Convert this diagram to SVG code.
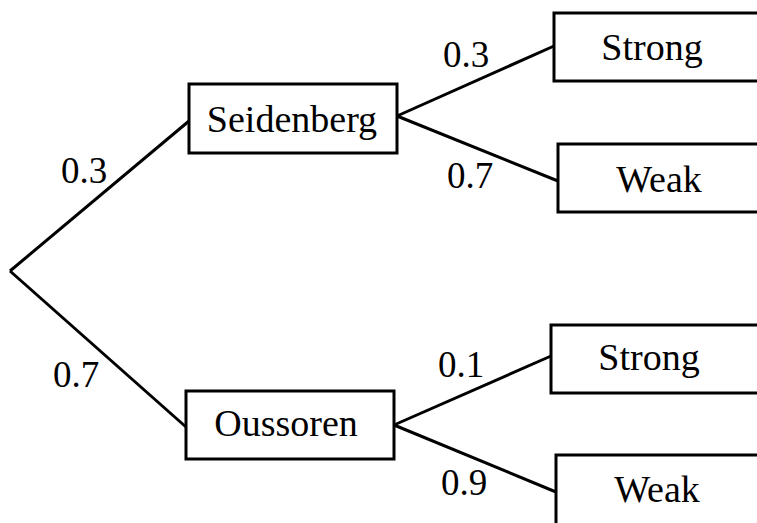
<svg xmlns="http://www.w3.org/2000/svg" width="757" height="523" viewBox="0 0 757 523">
<style>
.box{fill:#fff;stroke:#000;stroke-width:3}
.edge{fill:none;stroke:#000;stroke-width:3}
text{font-family:"Liberation Serif","Times New Roman",serif;font-size:38px;fill:#000}
.n{font-size:37px}
.c{text-anchor:middle}
</style>
<rect width="757" height="523" fill="#fff"/>
<g id="connectors">
<line class="edge" x1="10" y1="271" x2="189" y2="121"/>
<line class="edge" x1="10" y1="271" x2="186" y2="427"/>
<line class="edge" x1="397" y1="116" x2="554" y2="46"/>
<line class="edge" x1="397" y1="116" x2="558" y2="181"/>
<line class="edge" x1="394" y1="425" x2="551" y2="356"/>
<line class="edge" x1="394" y1="425" x2="556" y2="492"/>
<text x="84" y="183" class="c n">0.3</text>
<text x="76" y="387" class="c n">0.7</text>
<text x="466" y="67" class="c n">0.3</text>
<text x="470" y="188" class="c n">0.7</text>
<text x="461" y="377" class="c n">0.1</text>
<text x="464" y="495" class="c n">0.9</text>
</g>
<g id="seidenberg">
<rect class="box" x="189" y="84" width="208" height="69"/>
<text x="292" y="132" class="c">Seidenberg</text>
</g>
<g id="oussoren">
<rect class="box" x="186" y="391" width="208" height="68"/>
<text x="286" y="436" class="c">Oussoren</text>
</g>
<g id="strong1">
<rect class="box" x="554" y="13" width="220" height="68"/>
<text x="652" y="60" class="c">Strong</text>
</g>
<g id="weak1">
<rect class="box" x="558" y="144" width="220" height="68"/>
<text x="659" y="192" class="c">Weak</text>
</g>
<g id="strong2">
<rect class="box" x="551" y="325" width="220" height="68"/>
<text x="649" y="370" class="c">Strong</text>
</g>
<g id="weak2">
<rect class="box" x="556" y="455" width="220" height="80"/>
<text x="657" y="502" class="c">Weak</text>
</g>
</svg>
